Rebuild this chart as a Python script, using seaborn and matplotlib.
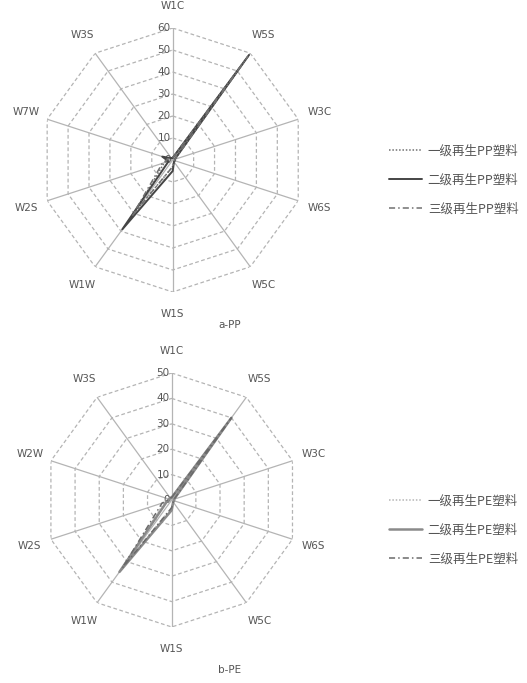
import numpy as np
import pandas as pd
import matplotlib
matplotlib.use("Agg")
import matplotlib.pyplot as plt
import seaborn as sns

sns.set_theme(style="white")
plt.rcParams["font.family"] = ["Noto Sans CJK SC", "DejaVu Sans"]

# ---------------- data ----------------
pp_categories = ["W1C", "W5S", "W3C", "W6S", "W5C", "W1S", "W1W", "W2S", "W7W", "W3S"]
pe_categories = ["W1C", "W5S", "W3C", "W6S", "W5C", "W1S", "W1W", "W2S", "W2W", "W3S"]

pp_grade1 = [1, 58, 1, 1, 1, 3, 30, 4, 2, 1]
pp_grade2 = [1, 59, 1, 1, 1, 5, 39, 2, 5, 1]
pp_grade3 = [1, 58, 1, 1, 1, 3, 31, 5, 2, 1]

pe_grade1 = [1, 40, 1, 1, 1, 3, 32, 3, 1, 1]
pe_grade2 = [1, 40, 1, 1, 1, 4, 35, 2, 1, 1]
pe_grade3 = [1, 40, 1, 1, 1, 3, 33, 4, 1, 1]

pp_labels = ["一级再生PP塑料", "二级再生PP塑料", "三级再生PP塑料"]
pe_labels = ["一级再生PE塑料", "二级再生PE塑料", "三级再生PE塑料"]

pp_ticks = [0, 10, 20, 30, 40, 50, 60]
pe_ticks = [0, 10, 20, 30, 40, 50]

pp_title = "a-PP"
pe_title = "b-PE"

# ---------------- styles ----------------
pp_styles = [
    dict(color="#707070", ls=(0, (1, 1.2)), lw=1.1),
    dict(color="#454545", ls="-", lw=1.4),
    dict(color="#707070", ls=(0, (4, 2, 1, 2)), lw=1.1),
]
pe_styles = [
    dict(color="#b5b5b5", ls=(0, (1, 1.2)), lw=1.1),
    dict(color="#8a8a8a", ls="-", lw=1.8),
    dict(color="#6a6a6a", ls=(0, (4, 2, 1, 2)), lw=1.1),
]

GRID_C = "#b4b4b4"
TEXT_C = "#555555"

fig = plt.figure(figsize=(5.27, 6.83), dpi=100)
W, H = 527, 683


def add_radar(cx, cy, r, cats, series, labels, styles, ticks, title, legend_y):
    ax = fig.add_axes([(cx - r) / W, 1 - (cy + r) / H, 2 * r / W, 2 * r / H],
                      projection="polar")
    ax.set_theta_zero_location("N")
    ax.set_theta_direction(-1)
    n = len(cats)
    angles = list(np.linspace(0, 2 * np.pi, n, endpoint=False))
    closed = angles + [2 * np.pi]
    rmax = ticks[-1]
    ax.set_ylim(0, rmax)
    ax.grid(False)
    ax.spines["polar"].set_visible(False)
    ax.set_yticks([])
    ax.set_xticks(angles)
    ax.set_xticklabels(cats, fontsize=7.5, color=TEXT_C, family="DejaVu Sans")
    ax.tick_params(axis="x", pad=3)
    ax.set_facecolor("none")

    # polygon grid rings
    for t in ticks[1:]:
        ax.plot(closed, [t] * (n + 1), color=GRID_C, lw=0.9,
                ls=(0, (3, 2)), zorder=1)
    # spokes
    for a in angles:
        ax.plot([a, a], [0, rmax], color=GRID_C, lw=0.9, zorder=1)
    # radial tick labels
    for t in ticks:
        ax.annotate(str(t), xy=(0, t), xytext=(-1.5, 0), textcoords="offset points",
                    ha="right", va="center", fontsize=7.5, color=TEXT_C,
                    family="DejaVu Sans")

    handles = []
    for vals, lab, st in zip(series, labels, styles):
        df = pd.DataFrame({"theta": closed, "value": list(vals) + [vals[0]]})
        sns.lineplot(data=df, x="theta", y="value", sort=False, estimator=None,
                     ax=ax, color=st["color"], linestyle=st["ls"],
                     linewidth=st["lw"], zorder=3)
        handles.append(ax.lines[-1])
    if ax.get_legend() is not None:
        ax.get_legend().remove()
    ax.set_xlabel("")
    ax.set_ylabel("")

    fig.legend(handles, labels, loc="center left",
               bbox_to_anchor=(389 / W, 1 - legend_y / H),
               frameon=False, fontsize=9, handlelength=2.6,
               handletextpad=0.5, labelspacing=1.3, borderpad=0,
               borderaxespad=0, labelcolor=TEXT_C)
    return ax


add_radar(172.7, 160, 132, pp_categories, [pp_grade1, pp_grade2, pp_grade3],
          pp_labels, pp_styles, pp_ticks, pp_title, 180)
add_radar(171.7, 500, 127, pe_categories, [pe_grade1, pe_grade2, pe_grade3],
          pe_labels, pe_styles, pe_ticks, pe_title, 530)

fig.text(230 / W, 1 - 325 / H, pp_title, ha="center", va="center",
         fontsize=7.5, color=TEXT_C, family="DejaVu Sans")
fig.text(230 / W, 1 - 670 / H, pe_title, ha="center", va="center",
         fontsize=7.5, color=TEXT_C, family="DejaVu Sans")

fig.savefig("out.png", dpi=100, facecolor="white")
